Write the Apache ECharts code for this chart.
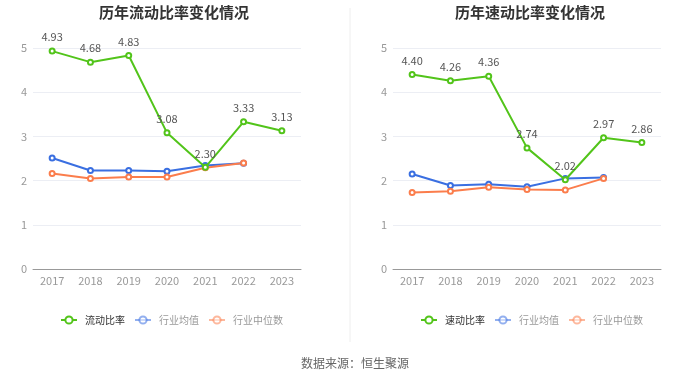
<!DOCTYPE html>
<html><head><meta charset="utf-8">
<script src="https://cdn.jsdelivr.net/npm/echarts@6/dist/echarts.min.js"></script>
<style>html,body{margin:0;padding:0;background:#fff}#c{width:700px;height:378px}</style>
</head><body><div id="c"></div>
<script>
var years = ['2017','2018','2019','2020','2021','2022','2023'];
var yTicks = [0,1,2,3,4,5];
var currentRatio = [4.93,4.68,4.83,3.08,2.30,3.33,3.13];
var currentAvg = [2.51,2.23,2.23,2.21,2.34,2.39];
var currentMedian = [2.16,2.05,2.08,2.08,2.29,2.40];
var quickRatio = [4.40,4.26,4.36,2.74,2.02,2.97,2.86];
var quickAvg = [2.15,1.89,1.92,1.86,2.05,2.07];
var quickMedian = [1.73,1.76,1.85,1.80,1.79,2.05];

var GREEN='#52c41a', BLUE='#3a6fe1', ORANGE='#fb7d4c';
var font = '"Noto Sans CJK SC","Noto Sans",sans-serif';
function xAx(i){return {type:'category',gridIndex:i,data:years,boundaryGap:true,
  axisLine:{lineStyle:{color:'#999'}},axisTick:{show:false},
  axisLabel:{color:'#999',fontSize:11,margin:6,fontFamily:font}};}
function yAx(i){return {type:'value',gridIndex:i,min:0,max:5,interval:1,
  axisLine:{show:false},axisTick:{show:false},
  axisLabel:{color:'#999',fontSize:11,margin:6,fontFamily:font},
  splitLine:{lineStyle:{color:'#eceef4'}}};}
function ser(name,data,color,i,label){return {name:name,type:'line',xAxisIndex:i,yAxisIndex:i,data:data,
  symbol:'emptyCircle',symbolSize:5,color:color,lineStyle:{width:2,color:color},itemStyle:{color:color},
  label:{show:label,position:'top',color:'#555',fontSize:11,fontFamily:font,formatter:function(p){return p.value.toFixed(2);}},
  z:label?3:2};}
function leg(left,first){return {left:left,top:310,itemWidth:16,itemHeight:9,itemGap:9,
  textStyle:{fontSize:10,fontFamily:font,padding:[0,0,0,3]},
  data:[{name:first,textStyle:{color:'#333'}},
        {name:'行业均值',textStyle:{color:'#999'},itemStyle:{opacity:0.55},lineStyle:{opacity:0.55}},
        {name:'行业中位数',textStyle:{color:'#999'},itemStyle:{opacity:0.55},lineStyle:{opacity:0.55}}]};}
var chart = echarts.init(document.getElementById('c'));
chart.setOption({
  animation:false,
  title:[
    {text:'历年流动比率变化情况',left:169,top:0,textAlign:'center',textStyle:{fontSize:15,fontWeight:'bold',color:'#333',fontFamily:font}},
    {text:'历年速动比率变化情况',left:525,top:0,textAlign:'center',textStyle:{fontSize:15,fontWeight:'bold',color:'#333',fontFamily:font}},
    {text:'数据来源：恒生聚源',left:350,top:352,textAlign:'center',textStyle:{fontSize:12,fontWeight:'normal',color:'#666',fontFamily:font}}
  ],
  legend:[leg(55,'流动比率'),leg(415,'速动比率')],
  grid:[{left:33,width:268,top:48,height:221},{left:393,width:268,top:48,height:221}],
  xAxis:[xAx(0),xAx(1)],
  yAxis:[yAx(0),yAx(1)],
  graphic:[{type:'line',shape:{x1:350,y1:8,x2:350,y2:342},style:{stroke:'#eeeeee',lineWidth:1}}],
  series:[
    ser('流动比率',currentRatio,GREEN,0,true),
    ser('行业均值',currentAvg,BLUE,0,false),
    ser('行业中位数',currentMedian,ORANGE,0,false),
    ser('速动比率',quickRatio,GREEN,1,true),
    ser('行业均值',quickAvg,BLUE,1,false),
    ser('行业中位数',quickMedian,ORANGE,1,false)
  ]
});
</script></body></html>
